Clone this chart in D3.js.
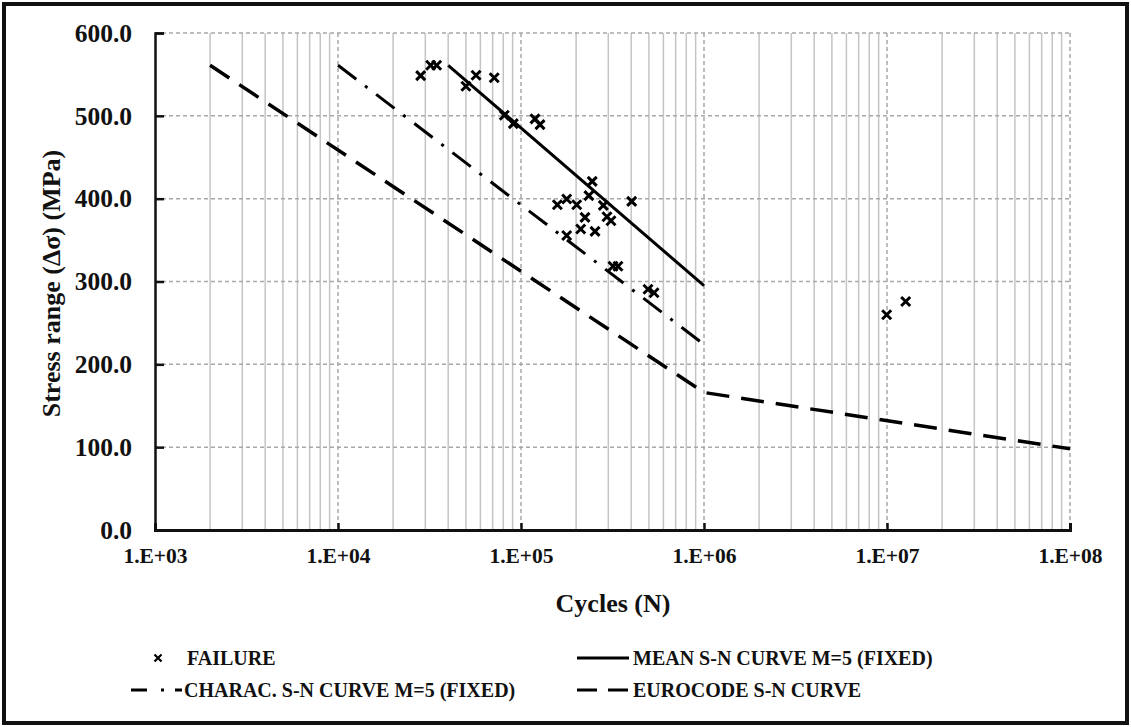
<!DOCTYPE html>
<html>
<head>
<meta charset="utf-8">
<script src="https://cdn.jsdelivr.net/npm/d3@7/dist/d3.min.js"></script>
<style>
  html, body { margin: 0; padding: 0; background: #fff; }
  svg { display: block; }
  text { font-family: "Liberation Serif", "Times New Roman", serif; font-weight: bold; fill: #111; }
</style>
</head>
<body>
<svg id="chart" width="1131" height="727"></svg>
<script>
// ---------------- DATA ----------------
const failureN = [28300, 32100, 34600, 50000, 56800, 71400, 81000, 90800, 119300, 127000,
  245000, 235000, 158000, 177700, 201600, 281700, 402600, 223700, 295000, 310300,
  212000, 253800, 177700, 318200, 338800, 494300, 533300, 12650000, 9960000];
const failureS = [548.6, 561.1, 561.0, 535.7, 549.0, 545.9, 500.7, 490.6, 496.3, 489.4,
  420.9, 403.6, 392.7, 399.6, 392.7, 391.9, 396.7, 377.4, 378.2, 373.4,
  363.4, 360.5, 355.6, 318.4, 318.4, 290.6, 286.4, 275.9, 259.8];

const meanN = [40000, 1000000];
const meanS = [561, 295];
const characN = [10000, 1000000];
const characS = [561, 224];
const eurocodeN = [2000, 1000000, 100000000];
const eurocodeS = [561, 166, 98];

const xTickValues = [1e3, 1e4, 1e5, 1e6, 1e7, 1e8];
const xTickLabels = ["1.E+03", "1.E+04", "1.E+05", "1.E+06", "1.E+07", "1.E+08"];
const yTickValues = [0, 100, 200, 300, 400, 500, 600];
const yTickLabels = ["0.0", "100.0", "200.0", "300.0", "400.0", "500.0", "600.0"];

const legendLabels = ["FAILURE", "MEAN S-N CURVE M=5 (FIXED)", "CHARAC. S-N CURVE M=5 (FIXED)", "EUROCODE S-N CURVE"];

// ---------------- CHART ----------------
const svg = d3.select("#chart");
const W = 1131, H = 727;
const L = 155, R = 1070, T = 33, B = 530;

const x = d3.scaleLog().domain([1e3, 1e8]).range([L, R]);
const y = d3.scaleLinear().domain([0, 600]).range([B, T]);

// outer frame
svg.append("rect").attr("x", 4).attr("y", 4).attr("width", W - 8).attr("height", H - 8)
  .attr("fill", "#fff").attr("stroke", "#111").attr("stroke-width", 4);

// minor vertical gridlines
const minor = [];
for (let e = 3; e < 8; e++) for (let k = 2; k <= 9; k++) minor.push(k * Math.pow(10, e));
svg.append("g").selectAll("line").data(minor).join("line")
  .attr("x1", d => x(d)).attr("x2", d => x(d)).attr("y1", T).attr("y2", B)
  .attr("stroke", "#c4c4c4").attr("stroke-width", 1.5);

// major vertical gridlines (dashed)
svg.append("g").selectAll("line").data(xTickValues.slice(1)).join("line")
  .attr("x1", d => x(d)).attr("x2", d => x(d)).attr("y1", T).attr("y2", B)
  .attr("stroke", "#a8a8a8").attr("stroke-width", 1.5).attr("stroke-dasharray", "4,3");

// horizontal gridlines (dashed)
svg.append("g").selectAll("line").data(yTickValues.slice(1)).join("line")
  .attr("x1", L).attr("x2", R).attr("y1", d => y(d)).attr("y2", d => y(d))
  .attr("stroke", "#a8a8a8").attr("stroke-width", 1.5).attr("stroke-dasharray", "4,3");

// axes
const yAxis = d3.axisLeft(y).tickValues(yTickValues).tickSize(-9).tickPadding(23)
  .tickFormat((d, i) => yTickLabels[i]);
const gy = svg.append("g").attr("transform", `translate(${L},0)`).call(yAxis);
gy.select(".domain").attr("stroke", "#111").attr("stroke-width", 2.5);
gy.selectAll(".tick line").attr("stroke", "#111").attr("stroke-width", 2.5);
gy.selectAll(".tick text").attr("font-size", 25.5).attr("font-family", "Liberation Serif").attr("font-weight", "bold").attr("fill", "#111");

const xAxis = d3.axisBottom(x).tickValues(xTickValues).tickSize(-7).tickPadding(18)
  .tickFormat((d, i) => xTickLabels[i]);
const gx = svg.append("g").attr("transform", `translate(0,${B})`).call(xAxis);
gx.select(".domain").attr("stroke", "#111").attr("stroke-width", 3);
gx.selectAll(".tick line").attr("stroke", "#111").attr("stroke-width", 2.5);
gx.selectAll(".tick text").attr("font-size", 21.5).attr("font-family", "Liberation Serif").attr("font-weight", "bold").attr("fill", "#111");

// axis titles
svg.append("text").attr("x", 613).attr("y", 612).attr("text-anchor", "middle")
  .attr("font-size", 26).text("Cycles (N)");
svg.append("text").attr("transform", `translate(60,${(T + B) / 2 + 2}) rotate(-90)`)
  .attr("text-anchor", "middle").attr("font-size", 26).text("Stress range (Δσ) (MPa)");

// curves
const line = d3.line().x(d => x(d[0])).y(d => y(d[1]));
const zip = (a, b) => a.map((v, i) => [v, b[i]]);

svg.append("path").datum(zip(eurocodeN, eurocodeS)).attr("d", line)
  .attr("fill", "none").attr("stroke", "#000").attr("stroke-width", 3.5)
  .attr("stroke-dasharray", "23,12");
svg.append("path").datum(zip(characN, characS)).attr("d", line)
  .attr("fill", "none").attr("stroke", "#000").attr("stroke-width", 3)
  .attr("stroke-dasharray", "23,11,3,11");
svg.append("path").datum(zip(meanN, meanS)).attr("d", line)
  .attr("fill", "none").attr("stroke", "#000").attr("stroke-width", 3);

// failure markers
const cross = (cx, cy, s) => `M${cx - s},${cy - s}L${cx + s},${cy + s}M${cx - s},${cy + s}L${cx + s},${cy - s}`;
svg.append("g").selectAll("path").data(zip(failureN, failureS)).join("path")
  .attr("d", d => cross(x(d[0]), y(d[1]), 4.5))
  .attr("stroke", "#000").attr("stroke-width", 3).attr("fill", "none");

// legend
const lg = svg.append("g");
const row1 = 658, row2 = 690;
lg.append("path").attr("d", cross(158, row1, 3.5)).attr("stroke", "#000").attr("stroke-width", 2.2);
lg.append("text").attr("x", 187).attr("y", row1 + 7).attr("font-size", 20).text(legendLabels[0]);

lg.append("line").attr("x1", 577).attr("x2", 629).attr("y1", row1).attr("y2", row1)
  .attr("stroke", "#000").attr("stroke-width", 3);
lg.append("text").attr("x", 633).attr("y", row1 + 7).attr("font-size", 20).text(legendLabels[1]);

lg.append("line").attr("x1", 131).attr("x2", 182).attr("y1", row2).attr("y2", row2)
  .attr("stroke", "#000").attr("stroke-width", 3).attr("stroke-dasharray", "16,14,3,11");
lg.append("text").attr("x", 184).attr("y", row2 + 7).attr("font-size", 20).text(legendLabels[2]);

lg.append("line").attr("x1", 577).attr("x2", 629).attr("y1", row2).attr("y2", row2)
  .attr("stroke", "#000").attr("stroke-width", 3).attr("stroke-dasharray", "20,11");
lg.append("text").attr("x", 633).attr("y", row2 + 7).attr("font-size", 20).text(legendLabels[3]);
</script>
</body>
</html>
